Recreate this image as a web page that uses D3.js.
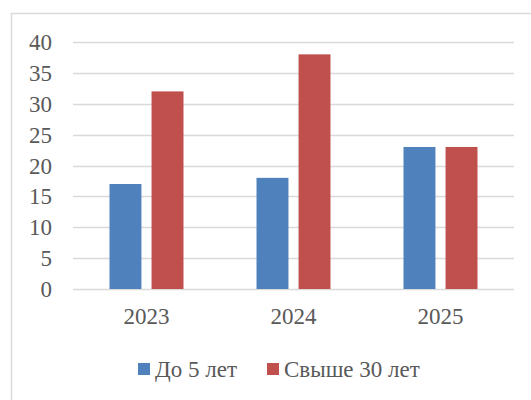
<!DOCTYPE html>
<html>
<head>
<meta charset="utf-8">
<script src="https://cdn.jsdelivr.net/npm/d3@7"></script>
<style>
body { margin: 0; background: #fff; }
svg { display: block; }
</style>
</head>
<body>
<div id="chart"></div>
<script>
var years = ["2023", "2024", "2025"];
var seriesNames = ["До 5 лет", "Свыше 30 лет"];
var under5 = [17, 18, 23];
var over30 = [32, 38, 23];
var yTicks = [0, 5, 10, 15, 20, 25, 30, 35, 40];
var colors = ["#4f81bd", "#c0504d"];

var width = 531, height = 400;
var svg = d3.select("#chart").append("svg")
    .attr("width", width)
    .attr("height", height)
    .attr("font-family", "Liberation Serif, Times New Roman, serif");

// chart frame
svg.append("rect")
    .attr("x", 11.5).attr("y", 13.5)
    .attr("width", 530).attr("height", 400)
    .attr("fill", "none")
    .attr("stroke", "#d9d9d9")
    .attr("stroke-width", 1.5);

var plotLeft = 73, plotRight = 514, plotTop = 42, plotBottom = 289;

var x = d3.scaleBand().domain(years).range([plotLeft, plotRight]);
var y = d3.scaleLinear().domain([0, 40]).range([plotBottom, plotTop]);

// gridlines
svg.append("g").selectAll("line")
    .data(yTicks)
    .enter().append("line")
    .attr("x1", plotLeft).attr("x2", plotRight)
    .attr("y1", function (d) { return Math.round(y(d)) + 0.5; })
    .attr("y2", function (d) { return Math.round(y(d)) + 0.5; })
    .attr("stroke", "#d9d9d9")
    .attr("stroke-width", 1.5);

// y axis labels
svg.append("g").selectAll("text")
    .data(yTicks)
    .enter().append("text")
    .attr("x", 52)
    .attr("y", function (d) { return y(d); })
    .attr("dy", "0.35em")
    .attr("text-anchor", "end")
    .attr("fill", "#595959")
    .style("font-size", "23px")
    .text(function (d) { return d; });

// bars
var x1 = d3.scaleBand().domain([0, 1]).range([0, 74]).paddingInner(0.24);
var groups = svg.append("g").selectAll("g")
    .data(years)
    .enter().append("g")
    .attr("transform", function (d) { return "translate(" + (x(d) + x.bandwidth() / 2 - 37) + ",0)"; });

groups.selectAll("rect")
    .data(function (d, i) { return [under5[i], over30[i]]; })
    .enter().append("rect")
    .attr("x", function (d, j) { return x1(j); })
    .attr("width", x1.bandwidth())
    .attr("y", function (d) { return y(d); })
    .attr("height", function (d) { return y(0) - y(d); })
    .attr("fill", function (d, j) { return colors[j]; });

// x axis labels
svg.append("g").selectAll("text")
    .data(years)
    .enter().append("text")
    .attr("x", function (d) { return x(d) + x.bandwidth() / 2; })
    .attr("y", 324)
    .attr("text-anchor", "middle")
    .attr("fill", "#595959")
    .style("font-size", "23px")
    .text(function (d) { return d; });

// legend
var legendX = [138, 267];
var legend = svg.append("g").selectAll("g")
    .data(seriesNames)
    .enter().append("g")
    .attr("transform", function (d, i) { return "translate(" + legendX[i] + ",363)"; });
legend.append("rect")
    .attr("width", 12).attr("height", 12)
    .attr("fill", function (d, i) { return colors[i]; });
legend.append("text")
    .attr("x", 17).attr("y", 14)
    .attr("fill", "#595959")
    .style("font-size", "23px")
    .text(function (d) { return d; });
</script>
</body>
</html>
